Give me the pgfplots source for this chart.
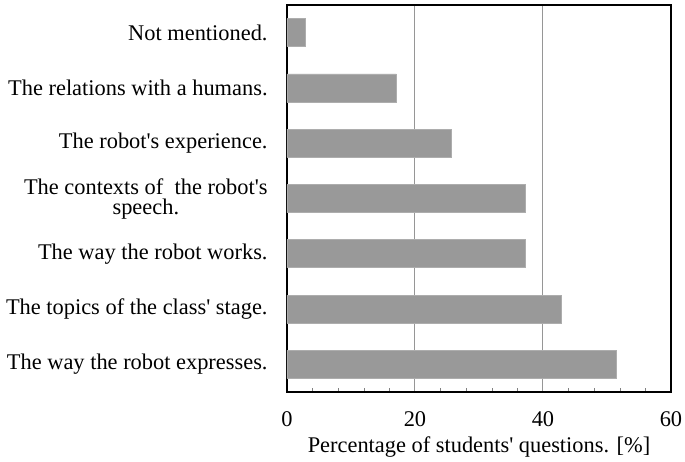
\documentclass[border=0pt]{standalone}
\usepackage{fontspec}
\setmainfont{Liberation Serif}
\usepackage{pgfplots}
\pgfplotsset{compat=1.18}
\definecolor{bargray}{RGB}{153,153,153}
\definecolor{gridgray}{RGB}{150,150,150}
\newcommand{\q}{\textquotesingle}
\begin{document}
\fontsize{11.2pt}{13.4pt}\selectfont
\begin{tikzpicture}
\useasboundingbox (-143.5pt,-34.5pt) rectangle (199pt,196pt);
\begin{axis}[
  at={(0,0)}, anchor=south west,
  scale only axis,
  width=192pt, height=193.5pt,
  xbar, bar width=14pt,
  xmin=0, xmax=60,
  ymin=-0.5, ymax=6.5,
  xtick={0,20,40,60},
  minor x tick num=4,
  ytick={0,1,2,3,4,5,6},
  yticklabels={
    The way the robot expresses.,
    The topics of the class\q{} stage.,
    The way the robot works.,
    {The contexts of\ \ the robot\q{}s\\speech.},
    The robot\q{}s experience.,
    The relations with a humans.,
    Not mentioned.},
  yticklabel style={align=center, font=\fontsize{11.2pt}{10pt}\selectfont, inner sep=0pt, xshift=-9.5pt},
  xticklabel style={font=\fontsize{11.2pt}{13pt}\selectfont, yshift=-6pt},
  /pgf/number format/assume math mode=true,
  major tick length=0pt,
  minor tick length=2pt,
  tick align=inside,
  xtick pos=bottom,
  ytick style={draw=none},
  xmajorgrids,
  grid style={gridgray, line width=0.5pt},
  axis line style={black, line width=0.75pt},
  xlabel={Percentage of students\q{} questions. [\%]},
  xlabel style={font=\fontsize{11.2pt}{13pt}\selectfont, yshift=3pt},
]
\addplot[fill=bargray, draw=bargray!80!white, line width=0.3pt] coordinates {
  (51.4,0) (42.8,1) (37.2,2) (37.2,3) (25.7,4) (17.1,5) (2.9,6)
};
\end{axis}
\end{tikzpicture}
\end{document}
